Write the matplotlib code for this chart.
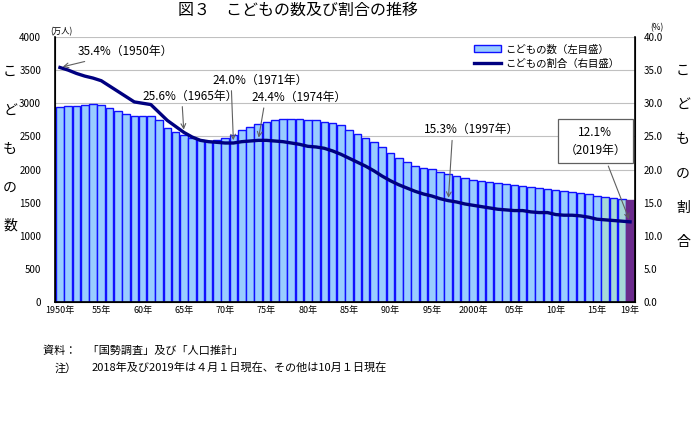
import matplotlib.pyplot as plt
import numpy as np

plt.rcParams['font.family'] = ['Noto Sans CJK JP', 'DejaVu Sans']

years = list(range(1950, 2020))
# children (0-14), 10,000 persons
children = [2943, 2960, 2965, 2970, 2985, 2980, 2925, 2880, 2840, 2815,
            2807, 2810, 2750, 2630, 2570, 2517, 2470, 2440, 2433, 2451,
            2482, 2523, 2597, 2645, 2693, 2722, 2743, 2757, 2760, 2755,
            2751, 2743, 2723, 2696, 2665, 2603, 2543, 2478, 2413, 2333,
            2249, 2176, 2114, 2051, 2022, 2001, 1957, 1937, 1899, 1874,
            1847, 1830, 1812, 1794, 1780, 1765, 1752, 1740, 1725, 1710,
            1694, 1680, 1665, 1649, 1633, 1595, 1578, 1565, 1553, 1533]
# share of total population, %
ratio = [35.4, 35.0, 34.5, 34.1, 33.8, 33.4, 32.6, 31.8, 31.0, 30.2,
         30.0, 29.8, 28.6, 27.4, 26.5, 25.6, 24.9, 24.4, 24.2, 24.1,
         24.0, 24.0, 24.2, 24.3, 24.4, 24.4, 24.3, 24.2, 24.0, 23.8,
         23.5, 23.4, 23.2, 22.8, 22.3, 21.7, 21.1, 20.5, 19.8, 19.0,
         18.3, 17.7, 17.2, 16.7, 16.3, 16.0, 15.6, 15.3, 15.1, 14.8,
         14.6, 14.4, 14.2, 14.0, 13.9, 13.8, 13.8, 13.6, 13.5, 13.5,
         13.2, 13.1, 13.1, 13.0, 12.8, 12.5, 12.4, 12.3, 12.2, 12.1]
xtick_years = [1950, 1955, 1960, 1965, 1970, 1975, 1980, 1985, 1990, 1995,
               2000, 2005, 2010, 2015, 2019]
xtick_labels = ['1950年', '55年', '60年', '65年', '70年', '75年', '80年', '85年',
                '90年', '95年', '2000年', '05年', '10年', '15年', '19年']

bar_colors = ['#99ccff'] * 66 + ['#a6d8d8'] * 3 + ['#6a2a8c']

fig = plt.figure(figsize=(7, 4.45), dpi=100)
ax = fig.add_axes([55/700, 1-302/445, 580/700, 265/445])
ax2 = ax.twinx()
ax.set_zorder(1)
ax2.set_zorder(2)
ax2.patch.set_visible(False)

# grid lines
for v in range(500, 4001, 500):
    ax.axhline(v, color='#c0c0c0', lw=0.8, zorder=0)

bars = ax.bar(years, children, width=0.92, color=bar_colors,
              edgecolor='#1010ff', linewidth=1.0, zorder=2, label='こどもの数（左目盛）')
bars[-1].set_edgecolor('#6a2a8c')
line, = ax2.plot(years, ratio, color='#000080', lw=2.4, label='こどもの割合（右目盛）')

ax.set_xlim(1949.4, 2019.6)
ax.set_ylim(0, 4000)
ax2.set_ylim(0, 40)
ax.set_yticks(range(0, 4001, 500))
ax2.set_yticks(np.arange(0, 40.1, 5))
ax2.set_yticklabels(['%.1f' % v for v in np.arange(0, 40.1, 5)])
ax.set_xticks(xtick_years)
ax.set_xticklabels(xtick_labels)

ax.tick_params(axis='y', length=0, labelsize=7, pad=10)
ax2.tick_params(axis='y', length=0, labelsize=7, pad=6)
ax.tick_params(axis='x', direction='in', length=3, width=2.5, labelsize=6.5, pad=3)
ax.spines['top'].set_visible(False)
ax2.spines['top'].set_visible(False)
ax2.spines['right'].set_linewidth(1.2)
ax.spines['left'].set_linewidth(1.2)
ax.spines['bottom'].set_linewidth(1.2)

# legend
ax2.legend(handles=[bars, line], loc='upper right', bbox_to_anchor=(0.985, 1.0),
           frameon=False, fontsize=7.5, handlelength=2.6, handleheight=0.6,
           handletextpad=0.4, borderaxespad=0.3, labelspacing=0.4)

# annotations
ann_size = 8.5
def ap(rx):
    return dict(arrowstyle='->', color='#606060', lw=0.8, relpos=(rx, 0), shrinkA=1)

ax2.annotate('35.4%（1950年）', xy=(1950, 35.4), xytext=(1952.2, 37.8),
             fontsize=ann_size, va='center',
             arrowprops=dict(arrowstyle='->', color='#606060', lw=0.8))
ax2.annotate('25.6%（1965年）', xy=(1965, 25.6), xytext=(1965.7, 31.1),
             fontsize=ann_size, arrowprops=ap(0.42), ha='center', va='center')
ax2.annotate('24.0%（1971年）', xy=(1971, 24.0), xytext=(1974.2, 33.5),
             fontsize=ann_size, arrowprops=ap(0.2), ha='center', va='center')
ax2.annotate('24.4%（1974年）', xy=(1974, 24.4), xytext=(1978.9, 30.9),
             fontsize=ann_size, arrowprops=ap(0.14), ha='center', va='center')
ax2.annotate('15.3%（1997年）', xy=(1997, 15.3), xytext=(1999.8, 26.0),
             fontsize=ann_size, arrowprops=ap(0.3), ha='center', va='center')
ax2.annotate('12.1%\n（2019年）', xy=(2019, 12.1), xytext=(2014.8, 24.3),
             fontsize=ann_size, ha='center', va='center', linespacing=1.5,
             arrowprops=dict(arrowstyle='->', color='#606060', lw=0.8, relpos=(0.65, 0)),
             bbox=dict(boxstyle='square,pad=0.55', fc='white', ec='#606060', lw=0.9))

# titles and axis labels
fig.text(0.426, 0.978, '図３　こどもの数及び割合の推移', ha='center', va='center', fontsize=11.5)
fig.text(50/700, 1-32/445, '(万人)', fontsize=6, va='center')
fig.text(650/700, 1-28/445, '(%)', fontsize=6, va='center')
for i, ch in enumerate('こどもの数'):
    fig.text(10/700, 1-(72+38.5*i)/445, ch, fontsize=10, ha='center', va='center')
for i, ch in enumerate('こどもの割合'):
    fig.text(683/700, 1-(71+34.2*i)/445, ch, fontsize=10, ha='center', va='center')

fig.text(43/700, 1-351/445, '資料：　「国勢調査」及び「人口推計」', fontsize=8, va='center')
fig.text(55/700, 1-368/445, '注）', fontsize=8, va='center')
fig.text(92/700, 1-368/445, '2018年及び2019年は４月１日現在、その他は10月１日現在',
         fontsize=8, va='center')

fig.savefig('out.png', dpi=100)
